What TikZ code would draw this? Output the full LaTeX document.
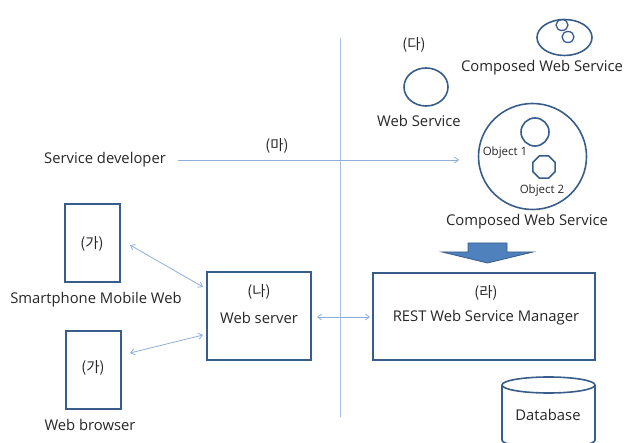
\documentclass[tikz,border=0pt]{standalone}
\usepackage{fontspec}
\setmainfont{Open Sans}
\newfontfamily\kr{Noto Sans CJK KR}
\usetikzlibrary{shapes.geometric,arrows.meta}
\definecolor{boxline}{HTML}{385D8A}
\definecolor{thinline}{HTML}{8EB0D8}
\definecolor{vline}{HTML}{A8C0DE}
\definecolor{bigfill}{HTML}{4F81BD}
\definecolor{txt}{HTML}{262626}
\tikzset{
  x=1pt,y=-1pt,
  every node/.style={font=\fontsize{14.8}{17}\selectfont, text=txt, inner sep=0pt},
  krn/.style={font=\fontsize{14.5}{17}\selectfont\kr},
  smallfont/.style={font=\fontsize{11.5}{13}\selectfont},
  boxn/.style={draw=boxline, line width=1.6pt},
  circ/.style={draw=boxline, line width=1.6pt, ellipse},
  conn/.style={draw=thinline, line width=0.8pt},
  tip/.style={-{Straight Barb[length=4pt,width=6pt]}},
  dtip/.style={{Straight Barb[length=4pt,width=6pt]}-{Straight Barb[length=4pt,width=6pt]}},
}
\begin{document}
\begin{tikzpicture}
\useasboundingbox (0,0) rectangle (628,443);
% vertical divider
\coordinate (vtop) at (340,38);
\coordinate (vbot) at (340,417);
\draw[vline, line width=0.9pt] (vtop) -- (vbot);

% left boxes
\node[boxn, minimum width=55pt, minimum height=78pt] (phone) at (92.5,243) {};
\node[krn] at (92,244) {(가)};
\node (phonelbl) at (96,300) {Smartphone Mobile Web};
\node[boxn, minimum width=55pt, minimum height=78pt] (browser) at (93.5,370) {};
\node[krn] at (93,368) {(가)};
\node (browserlbl) at (90,425) {Web browser};

% web server
\node[boxn, minimum width=104pt, minimum height=88pt] (web) at (259,316) {};
\node[krn] at (259,292) {(나)};
\node at (259,318) {Web server};

% REST manager
\node[boxn, minimum width=222pt, minimum height=87pt] (rest) at (484,316.5) {};
\node[krn] at (486,293) {(라)};
\node at (486,318) {REST Web Service Manager};

% connectors
\coordinate (p1) at (130,245);
\coordinate (p2) at (203,287);
\coordinate (b1) at (130,353);
\coordinate (b2) at (203,335);
\draw[conn, dtip] (p1) -- (p2);
\draw[conn, dtip] (b1) -- (b2);
\coordinate (w1) at (317,317);
\coordinate (r1) at (370,317);
\draw[conn, dtip] (w1) -- (r1);

% service developer
\node (dev) at (105,160) {Service developer};
\coordinate (d1) at (178,160);
\coordinate (d2) at (459,160);
\draw[conn, tip] (d1) -- (d2);
\node[krn] (ma) at (277,146) {(마)};

% web service
\node[krn] (da) at (414,45) {(다)};
\node[circ, minimum width=44pt, minimum height=38pt] (ws) at (426,87) {};
\node (wslbl) at (419,121) {Web Service};

% composed top
\node[circ, minimum width=55pt, minimum height=36pt] (cws) at (564.5,37.5) {};
\node[circ, line width=1.3pt, minimum width=12pt, minimum height=11pt] (c1) at (562,25) {};
\node[circ, line width=1.3pt, minimum width=12pt, minimum height=11pt] (c2) at (568,37) {};
\node (cwslbl) at (542,68) {Composed Web Service};

% composed big
\node[circ, minimum width=108pt, minimum height=106pt] (big) at (532.5,156.5) {};
\node[circ, minimum width=28pt, minimum height=28pt] (obj1) at (535,132) {};
\node[smallfont] at (505,153) {Object 1};
\node[draw=boxline, line width=1.6pt, regular polygon, regular polygon sides=8, minimum size=24pt] (obj2) at (544,167) {};
\node[smallfont] at (542,191) {Object 2};
\node (biglbl) at (527,222) {Composed Web Service};

% big arrow
\draw[draw=boxline, fill=bigfill, line width=0.8pt]
  (468,243) -- (507,243) -- (507,252) -- (533,252) -- (487.5,263) -- (442,252) -- (468,252) -- cycle;

% database
\draw[boxn, fill=white] (502,385) -- (502,440) arc[start angle=180, end angle=360, x radius=46.5, y radius=-8] -- (595,385);
\draw[boxn] (548.5,385) ellipse[x radius=46.5, y radius=8];
\node (db) at (548,415) {Database};
\end{tikzpicture}
\end{document}
